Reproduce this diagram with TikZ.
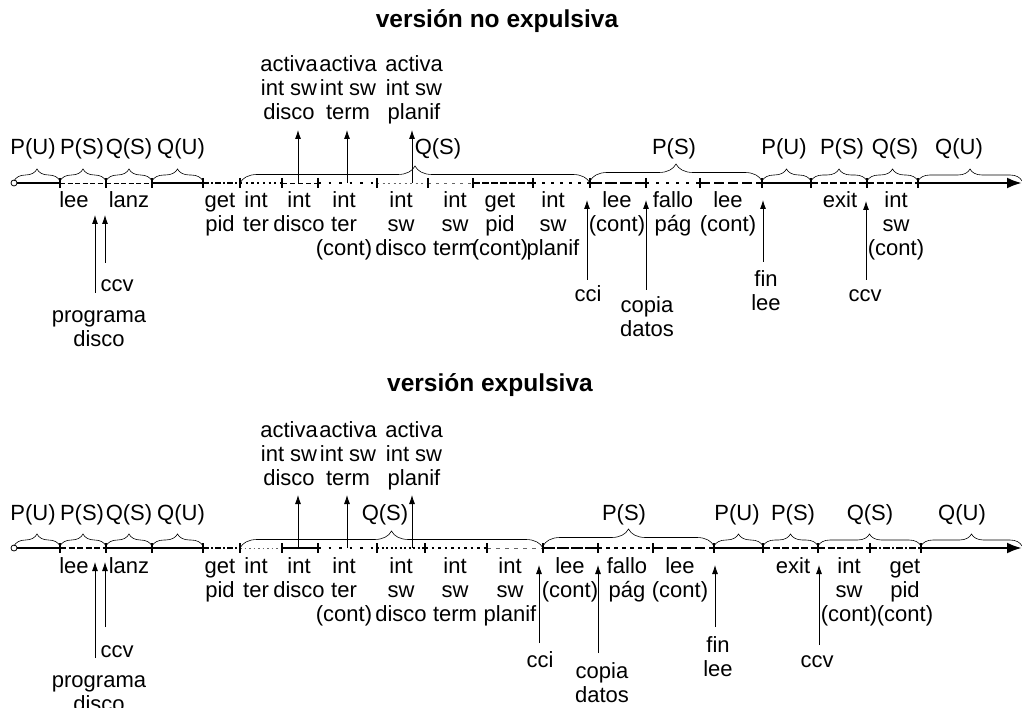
\documentclass[tikz,border=0pt]{standalone}
\usepackage{fontspec}
\setmainfont{Liberation Sans}
\usetikzlibrary{arrows.meta,decorations.pathreplacing}
\newcommand{\lblfont}{\fontsize{22}{24}\selectfont}
\newcommand{\ttlfont}{\fontsize{24.5}{28}\selectfont\bfseries}
\tikzset{
  lab/.style={font=\lblfont, align=center, inner sep=0pt, anchor=base},
  ttl/.style={font=\ttlfont, inner sep=0pt, anchor=base},
  brc/.style={decorate, decoration={brace, amplitude=12pt}, line width=0.6pt},
  bigbrc/.style={decorate, decoration={brace, amplitude=17pt}, line width=0.6pt},
  thk/.style={line width=2.6pt},
  thn/.style={line width=0.9pt},
  lite/.style={line width=0.9pt, black!60},
  tick/.style={line width=1.4pt},
  arr/.style={-{Latex[length=9pt,width=6pt]}, line width=0.8pt},
  tl/.style={line width=2.6pt, -{Latex[length=15pt,width=11pt]}},
}
\begin{document}
\begin{tikzpicture}[x=1pt,y=-1pt]
\useasboundingbox (0,0) rectangle (1022,708);

% ---------------- titles
\node[ttl] (title1) at (497,28) {versión no expulsiva};
\node[ttl] (title2) at (490,391) {versión expulsiva};

% ================= TOP TIMELINE =================
\foreach \n/\x in {0/14,1/60,2/106,3/152,4/203,5/240,6/282,7/318,8/377,9/428,10/473,11/533,12/590,13/646,14/700,15/762,16/811,17/867,18/918,19/1022}
  \coordinate (ta\n) at (\x,183);

\node[circle, draw, line width=0.8pt, fill=white, inner sep=0pt, minimum size=6pt] (sta) at (ta0) {};
\draw[thk] (sta.east) -- (ta1);
\draw[thn, dash pattern=on 5pt off 2.5pt] (ta1) -- (ta2);
\draw[thn, dash pattern=on 5pt off 2.5pt] (ta2) -- (ta3);
\draw[thk] (ta3) -- (ta4);
\draw[thk, dash pattern=on 6pt off 2pt on 2pt off 2pt] (ta4) -- (ta5);
\draw[line width=2.2pt, dash pattern=on 2.2pt off 3.5pt] (ta5) -- (ta6);
\draw[thn, dash pattern=on 5pt off 3pt] (ta6) -- (ta7);
\draw[thk, dash pattern=on 2.5pt off 8pt] (ta7) -- (ta8);
\draw[lite, dash pattern=on 2pt off 3.5pt] (ta8) -- (ta9);
\draw[lite, dash pattern=on 3pt off 5pt] (ta9) -- (ta10);
\draw[thk, dash pattern=on 7pt off 2pt] (ta10) -- (ta11);
\draw[thk, dash pattern=on 3pt off 6pt] (ta11) -- (ta12);
\draw[thk, dash pattern=on 12pt off 3pt] (ta12) -- (ta13);
\draw[thk, dash pattern=on 3pt off 7pt] (ta13) -- (ta14);
\draw[thk, dash pattern=on 10pt off 4pt] (ta14) -- (ta15);
\draw[thk] (ta15) -- (ta16);
\draw[thk, dash pattern=on 7pt off 2.5pt] (ta16) -- (ta17);
\draw[thk, dash pattern=on 7pt off 2.5pt] (ta17) -- (ta18);
\draw[tl] (ta18) -- (ta19);
\foreach \n in {1,2,3,4,5,6,7,8,9,10,11,12,13,14,15,16,17,18}
  \draw[tick] ([yshift=5pt]ta\n) -- ([yshift=-5pt]ta\n);

% braces top
\draw[brc] (14,181) -- (60,181);
\draw[brc] (60,181) -- (106,181);
\draw[brc] (106,181) -- (152,181);
\draw[brc] (152,181) -- (203,181);
\draw[bigbrc] (240,183) -- (590,183);
\draw[bigbrc] (590,181) -- (762,181);
\draw[brc] (762,181) -- (811,181);
\draw[brc] (811,181) -- (867,181);
\draw[brc] (867,181) -- (918,181);
\draw[brc] (918,181) -- (1022,181);

\node[lab] (pu1) at (33,155) {P(U)};
\node[lab] (ps1) at (82,155) {P(S)};
\node[lab] (qs1) at (129,155) {Q(S)};
\node[lab] (qu1) at (181,155) {Q(U)};
\node[lab] (qsb1) at (438,155) {Q(S)};
\node[lab] (psb1) at (674,155) {P(S)};
\node[lab] (pu1b) at (784,155) {P(U)};
\node[lab] (ps1b) at (842,155) {P(S)};
\node[lab] (qs1b) at (895,155) {Q(S)};
\node[lab] (qu1b) at (959,155) {Q(U)};

% labels above (base = last line)
\node[lab] (aa1) at (289,120) {activa\\int sw\\disco};
\node[lab] (ab1) at (348,120) {activa\\int sw\\term};
\node[lab] (ac1) at (414,120) {activa\\int sw\\planif};
\coordinate (aa1s) at (298,183); \coordinate (aa1e) at (298,130);
\coordinate (ab1s) at (347,183); \coordinate (ab1e) at (347,130);
\coordinate (ac1s) at (412,183); \coordinate (ac1e) at (412,130);
\draw[arr] (aa1s) -- (aa1e);
\draw[arr] (ab1s) -- (ab1e);
\draw[arr] (ac1s) -- (ac1e);

% labels below (base = last line)
\node[lab] (lee1) at (74,208) {lee};
\node[lab] (lanz1) at (129,208) {lanz};
\node[lab] (gp1) at (220,232) {get\\pid};
\node[lab] (it1) at (256,232) {int\\ter};
\node[lab] (id1) at (299,232) {int\\disco};
\node[lab] (itc1) at (344,256) {int\\ter\\(cont)};
\node[lab] (isd1) at (401,256) {int\\sw\\disco};
\node[lab] (ist1) at (455,256) {int\\sw\\term};
\node[lab] (gpc1) at (500,256) {get\\pid\\(cont)};
\node[lab] (isp1) at (553,256) {int\\sw\\planif};
\node[lab] (lc1) at (617,232) {lee\\(cont)};
\node[lab] (fp1) at (673,232) {fallo\\pág};
\node[lab] (lcb1) at (728,232) {lee\\(cont)};
\node[lab] (ex1) at (840,208) {exit};
\node[lab] (isc1) at (896,256) {int\\sw\\(cont)};

% arrows from below
\node[lab] (ccva) at (117,292) {ccv};
\node[lab] (prog1) at (99,346) {programa\\disco};
\node[lab] (cci1) at (588,302) {cci};
\node[lab] (cop1) at (647,337) {copia\\datos};
\node[lab] (fin1) at (766,311) {fin\\lee};
\node[lab] (ccvb) at (865,302) {ccv};
\coordinate (pg1s) at (95,293); \coordinate (pg1e) at (95,215);
\coordinate (cv1s) at (105,263); \coordinate (cv1e) at (105,215);
\coordinate (ci1s) at (587,280); \coordinate (ci1e) at (587,200);
\coordinate (cp1s) at (646,290); \coordinate (cp1e) at (646,200);
\coordinate (fn1s) at (763,262); \coordinate (fn1e) at (763,200);
\coordinate (cw1s) at (866,280); \coordinate (cw1e) at (866,201);
\draw[arr] (pg1s) -- (pg1e);
\draw[arr] (cv1s) -- (cv1e);
\draw[arr] (ci1s) -- (ci1e);
\draw[arr] (cp1s) -- (cp1e);
\draw[arr] (fn1s) -- (fn1e);
\draw[arr] (cw1s) -- (cw1e);

% ================= BOTTOM TIMELINE =================
\foreach \n/\x in {0/14,1/60,2/106,3/152,4/203,5/240,6/282,7/318,8/377,9/425,10/487,11/543,12/598,13/653,14/714,15/763,16/818,17/870,18/921,19/1022}
  \coordinate (tb\n) at (\x,548);

\node[circle, draw, line width=0.8pt, fill=white, inner sep=0pt, minimum size=6pt] (stb) at (tb0) {};
\draw[thk] (stb.east) -- (tb1);
\draw[thk, dash pattern=on 6pt off 2.5pt] (tb1) -- (tb2);
\draw[thk] (tb2) -- (tb3);
\draw[thk] (tb3) -- (tb4);
\draw[thk, dash pattern=on 6pt off 2pt on 2pt off 2pt] (tb4) -- (tb5);
\draw[lite, dash pattern=on 1.5pt off 3pt] (tb5) -- (tb6);
\draw[thk] (tb6) -- (tb7);
\draw[thk, dash pattern=on 2.5pt off 8pt] (tb7) -- (tb8);
\draw[thk, dash pattern=on 2pt off 2.5pt] (tb8) -- (tb9);
\draw[thk, dash pattern=on 2.5pt off 4pt] (tb9) -- (tb10);
\draw[lite, dash pattern=on 4pt off 5pt] (tb10) -- (tb11);
\draw[thk, dash pattern=on 12pt off 2pt] (tb11) -- (tb12);
\draw[line width=1.4pt, dash pattern=on 4pt off 4pt] (tb12) -- (tb13);
\draw[thk, dash pattern=on 10pt off 4pt] (tb13) -- (tb14);
\draw[thk] (tb14) -- (tb15);
\draw[thk, dash pattern=on 7pt off 2.5pt] (tb15) -- (tb16);
\draw[thk, dash pattern=on 7pt off 2.5pt] (tb16) -- (tb17);
\draw[thk, dash pattern=on 7pt off 2pt on 2pt off 2pt] (tb17) -- (tb18);
\draw[tl] (tb18) -- (tb19);
\foreach \n in {1,2,3,4,5,6,7,8,9,10,11,12,13,14,15,16,17,18}
  \draw[tick] ([yshift=5pt]tb\n) -- ([yshift=-5pt]tb\n);

% braces bottom
\draw[brc] (14,546) -- (60,546);
\draw[brc] (60,546) -- (106,546);
\draw[brc] (106,546) -- (152,546);
\draw[brc] (152,546) -- (203,546);
\draw[bigbrc] (240,548) -- (543,548);
\draw[bigbrc] (543,546) -- (714,546);
\draw[brc] (714,546) -- (763,546);
\draw[brc] (763,546) -- (818,546);
\draw[brc] (818,546) -- (921,546);
\draw[brc] (921,546) -- (1022,546);

\node[lab] (pu2) at (33,520) {P(U)};
\node[lab] (ps2) at (82,520) {P(S)};
\node[lab] (qs2) at (129,520) {Q(S)};
\node[lab] (qu2) at (181,520) {Q(U)};
\node[lab] (qsb2) at (385,520) {Q(S)};
\node[lab] (psb2) at (624,520) {P(S)};
\node[lab] (pu2b) at (737,520) {P(U)};
\node[lab] (ps2b) at (793,520) {P(S)};
\node[lab] (qs2b) at (870,520) {Q(S)};
\node[lab] (qu2b) at (962,520) {Q(U)};

% labels above
\node[lab] (aa2) at (289,485) {activa\\int sw\\disco};
\node[lab] (ab2) at (348,485) {activa\\int sw\\term};
\node[lab] (ac2) at (414,485) {activa\\int sw\\planif};
\coordinate (aa2s) at (298,548); \coordinate (aa2e) at (298,495);
\coordinate (ab2s) at (347,548); \coordinate (ab2e) at (347,495);
\coordinate (ac2s) at (412,548); \coordinate (ac2e) at (412,495);
\draw[arr] (aa2s) -- (aa2e);
\draw[arr] (ab2s) -- (ab2e);
\draw[arr] (ac2s) -- (ac2e);

% labels below
\node[lab] (lee2) at (74,573) {lee};
\node[lab] (lanz2) at (129,573) {lanz};
\node[lab] (gp2) at (220,597) {get\\pid};
\node[lab] (it2) at (256,597) {int\\ter};
\node[lab] (id2) at (299,597) {int\\disco};
\node[lab] (itc2) at (344,621) {int\\ter\\(cont)};
\node[lab] (isd2) at (401,621) {int\\sw\\disco};
\node[lab] (ist2) at (455,621) {int\\sw\\term};
\node[lab] (isp2) at (510,621) {int\\sw\\planif};
\node[lab] (lc2) at (570,597) {lee\\(cont)};
\node[lab] (fp2) at (627,597) {fallo\\pág};
\node[lab] (lcb2) at (680,597) {lee\\(cont)};
\node[lab] (ex2) at (793,573) {exit};
\node[lab] (isc2) at (849,621) {int\\sw\\(cont)};
\node[lab] (gpc2) at (905,621) {get\\pid\\(cont)};

% arrows from below
\node[lab] (ccvc) at (117,657) {ccv};
\node[lab] (prog2) at (99,711) {programa\\disco};
\node[lab] (cci2) at (540,667) {cci};
\node[lab] (cop2) at (602,702) {copia\\datos};
\node[lab] (fin2) at (718,676) {fin\\lee};
\node[lab] (ccvd) at (817,667) {ccv};
\coordinate (pg2s) at (95,658); \coordinate (pg2e) at (95,562);
\coordinate (cv2s) at (105,627); \coordinate (cv2e) at (105,562);
\coordinate (ci2s) at (539,643); \coordinate (ci2e) at (539,565);
\coordinate (cp2s) at (598,653); \coordinate (cp2e) at (598,565);
\coordinate (fn2s) at (715,627); \coordinate (fn2e) at (715,565);
\coordinate (cw2s) at (819,645); \coordinate (cw2e) at (819,565);
\draw[arr] (pg2s) -- (pg2e);
\draw[arr] (cv2s) -- (cv2e);
\draw[arr] (ci2s) -- (ci2e);
\draw[arr] (cp2s) -- (cp2e);
\draw[arr] (fn2s) -- (fn2e);
\draw[arr] (cw2s) -- (cw2e);
\end{tikzpicture}
\end{document}
